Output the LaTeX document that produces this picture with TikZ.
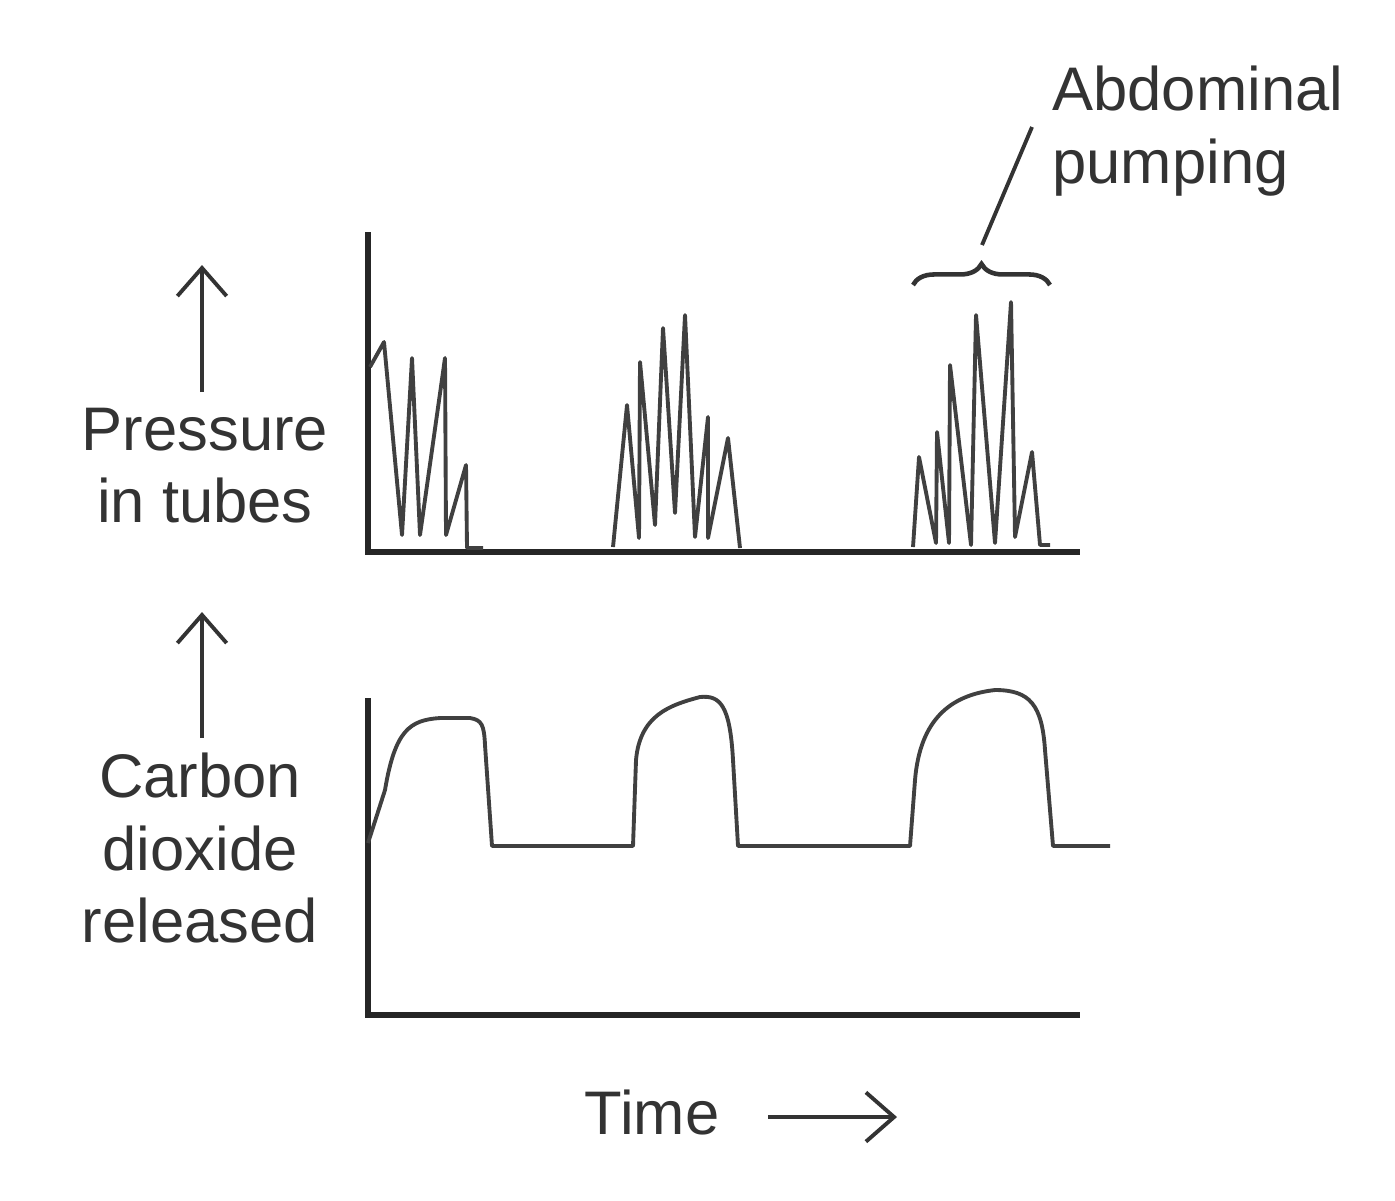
\documentclass[tikz,border=0pt]{standalone}
\usepackage{fontspec}
\setmainfont{Liberation Sans}
\usetikzlibrary{arrows.meta,decorations.pathreplacing}
\begin{document}
\begin{tikzpicture}[x=0.01cm,y=-0.01cm,
  ax/.style={line width=1.6pt,black!85},
  trace/.style={line width=1.1pt,black!75,line join=round},
  arr/.style={line width=1.1pt,black!80,-{Straight Barb[length=8pt,width=14pt]}},
  lbl/.style={font=\fontsize{17.5}{20.5}\selectfont,text=black!80,align=center}]
\useasboundingbox (0,0) rectangle (1395,1200);
\coordinate (a1) at (368,232); \coordinate (o1) at (368,552); \coordinate (e1) at (1080,552);
\coordinate (a2) at (368,698); \coordinate (o2) at (368,1015); \coordinate (e2) at (1080,1015);
\draw[ax] (a1) -- (o1) -- (e1);
\draw[ax] (a2) -- (o2) -- (e2);
\draw[trace] (370,367)--(384,342)--(402,535)--(412,358)--(420,535)--(445,358)--(446,535)--(466,465)--(467,548)--(483,548);
\draw[trace] (613,547)--(627,405)--(639,538)--(640,362)--(655,525)--(663,328)--(675,513)--(685,315)--(695,537)--(708,417)--(708,538)--(728,438)--(740,548);
\draw[trace] (913,547)--(919,457)--(936,543)--(937,432)--(949,543)--(950,365)--(971,545)--(976,315)--(995,543)--(1011,302)--(1015,537)--(1032,452)--(1040,545)--(1050,545);
\draw[trace] (368,843) -- (385,790) .. controls (395,730) and (410,720) .. (440,718)
  -- (470,718) .. controls (482,720) and (484,725) .. (485,745) -- (492,846) -- (633,846)
  -- (636,760) .. controls (640,715) and (670,705) .. (700,697) .. controls (720,695) and (730,705) .. (733,760)
  -- (738,846) -- (910,846) -- (915,780) .. controls (920,720) and (950,695) .. (995,690)
  .. controls (1030,690) and (1042,705) .. (1045,750) -- (1053,846) -- (1110,846);
\draw[line width=1.3pt,black!80,decorate,decoration={brace,amplitude=6pt}] (913,285) -- (1050,285);
\coordinate (bt) at (982,245);
\node[lbl,align=left,anchor=base west] (ab) at (1040,183) {Abdominal\\pumping};
\draw[line width=1.1pt,black!80] (bt) -- (1032,127);
\node[lbl] (p) at (205,466) {Pressure\\in tubes};
\node[lbl] (c) at (200,848) {Carbon\\dioxide\\released};
\node[lbl] (t) at (652,1112) {Time};
\coordinate (p0) at (202,392); \coordinate (p1) at (202,265);
\coordinate (c0) at (202,738); \coordinate (c1) at (202,612);
\coordinate (t0) at (768,1117); \coordinate (t1) at (897,1117);
\draw[arr] (p0) -- (p1);
\draw[arr] (c0) -- (c1);
\draw[arr] (t0) -- (t1);
\end{tikzpicture}
\end{document}
